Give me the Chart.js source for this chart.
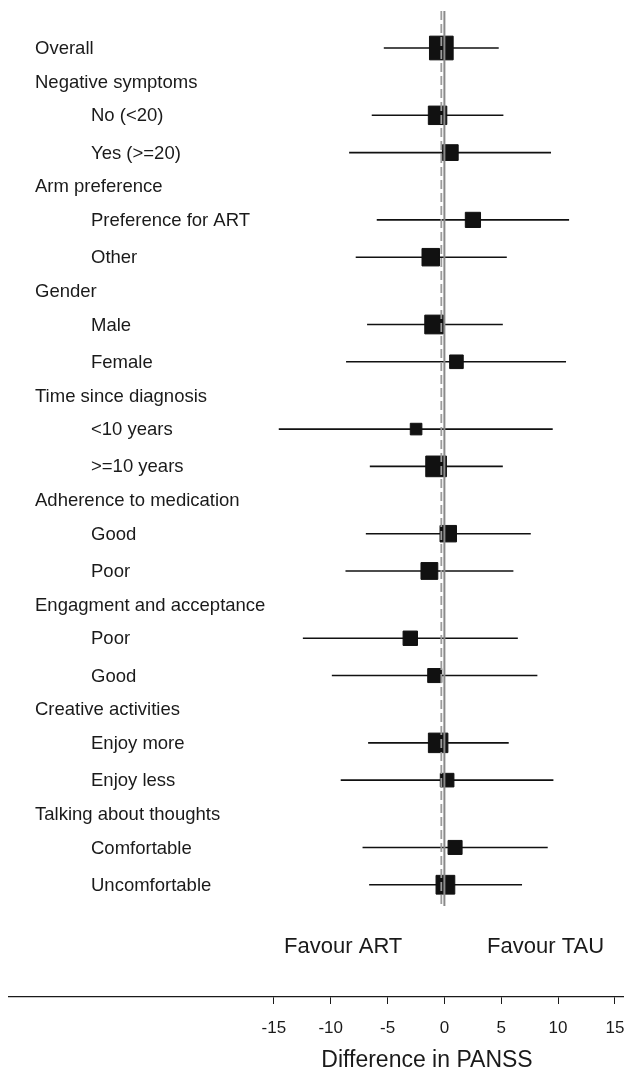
<!DOCTYPE html>
<html>
<head>
<meta charset="utf-8">
<script src="https://cdn.jsdelivr.net/npm/chart.js@4.4.1/dist/chart.umd.min.js"></script>
<style>
  html, body { margin: 0; padding: 0; background: #fff; }
  #wrap { width: 624px; height: 1074px; position: relative; }
</style>
</head>
<body>
<div id="wrap"><canvas id="forest"></canvas></div>
<script>
// Row labels, top to bottom (level 1 = indented subgroup)
const rowLabels = [
    'Overall',
    'Negative symptoms', 'No (<20)', 'Yes (>=20)',
    'Arm preference', 'Preference for ART', 'Other',
    'Gender', 'Male', 'Female',
    'Time since diagnosis', '<10 years', '>=10 years',
    'Adherence to medication', 'Good', 'Poor',
    'Engagment and acceptance', 'Poor', 'Good',
    'Creative activities', 'Enjoy more', 'Enjoy less',
    'Talking about thoughts', 'Comfortable', 'Uncomfortable'
];
const rowLevel = [0, 0, 1, 1, 0, 1, 1, 0, 1, 1, 0, 1, 1, 0, 1, 1, 0, 1, 1, 0, 1, 1, 0, 1, 1];

// Difference in PANSS (null = heading row, no estimate)
const estimates = [-0.27, null, -0.6, 0.52, null, 2.51, -1.2, null, -0.9, 1.06, null, -2.49, -0.73,
    null, 0.34, -1.32, null, -3.0, -0.85, null, -0.55, 0.24, null, 0.94, 0.09];
const lowerCI = [-5.33, null, -6.39, -8.38, null, -5.95, -7.8, null, -6.8, -8.65, null, -14.57, -6.56,
    null, -6.91, -8.7, null, -12.45, -9.9, null, -6.71, -9.12, null, -7.2, -6.62];
const upperCI = [4.78, null, 5.19, 9.38, null, 10.97, 5.49, null, 5.14, 10.7, null, 9.53, 5.14,
    null, 7.6, 6.07, null, 6.46, 8.18, null, 5.66, 9.59, null, 9.09, 6.83];
// Relative weight of each estimate (overall = 100), drawn as box area
const weights = [100, null, 62, 46, null, 43, 56, null, 64, 35, null, 26, 77,
    null, 50, 52, null, 39, 37, null, 69, 35, null, 37, 64];

const xTicks = [-15, -10, -5, 0, 5, 10, 15];
const favourLabels = ['Favour ART', 'Favour TAU'];
const xTitle = 'Difference in PANSS';

const FONT = '"Liberation Sans", Arial, Helvetica, sans-serif';
const INK = '#1a1a1a';

// vertical position of each row (subgroup pairs sit a little further apart)
const rowPos = [];
rowLabels.forEach((_, i) => {
    if (i === 0) { rowPos.push(0); return; }
    const step = (rowLevel[i] === 1 && rowLevel[i - 1] === 1) ? 1.108 : 1;
    rowPos.push(rowPos[i - 1] + step);
});
const lastPos = rowPos[rowPos.length - 1];

// box side from weight
const boxSide = w => 24.7 * Math.sqrt(w / 100);

const boxPoints = [];
const boxRadius = [];
const ciSets = [];
estimates.forEach((est, i) => {
    if (est === null) return;
    boxPoints.push({ x: est, y: rowPos[i] });
    boxRadius.push((boxSide(weights[i]) - 1) / Math.SQRT2);
    ciSets.push({
        data: [{ x: lowerCI[i], y: rowPos[i] }, { x: upperCI[i], y: rowPos[i] }],
        showLine: true,
        borderColor: '#111',
        borderWidth: 1.6,
        pointRadius: 0
    });
});

const textPlugin = {
    id: 'forestText',
    afterDraw(chart) {
        const { ctx, scales: { x, y } } = chart;
        ctx.save();
        ctx.fillStyle = INK;
        ctx.textBaseline = 'middle';
        ctx.textAlign = 'left';
        ctx.font = '18.5px ' + FONT;
        rowLabels.forEach((lab, i) => {
            ctx.fillText(lab, rowLevel[i] ? 91 : 35, y.getPixelForValue(rowPos[i]) + 1);
        });
        ctx.textAlign = 'center';
        ctx.font = '22px ' + FONT;
        ctx.fillText(favourLabels[0], x.getPixelForValue(-8.9), 947);
        ctx.fillText(favourLabels[1], x.getPixelForValue(8.9), 947);
        ctx.font = '23px ' + FONT;
        ctx.fillText(xTitle, 427, 1061);
        ctx.restore();
    }
};

const ctx = document.getElementById('forest').getContext('2d');
new Chart(ctx, {
    type: 'scatter',
    data: {
        datasets: [
            {
                // line of no effect
                data: [{ x: 0, y: -1.1 }, { x: 0, y: lastPos + 0.63 }],
                showLine: true,
                borderColor: '#8a8a8a',
                borderWidth: 2,
                pointRadius: 0
            },
            {
                // overall estimate
                data: [{ x: estimates[0], y: -1.1 }, { x: estimates[0], y: lastPos + 0.6 }],
                showLine: true,
                borderColor: '#9c9c9c',
                borderWidth: 1.8,
                borderDash: [9, 4],
                pointRadius: 0
            },
            {
                data: boxPoints,
                pointStyle: 'rect',
                pointRadius: boxRadius,
                backgroundColor: '#111',
                borderColor: '#111',
                borderWidth: 1
            },
            ...ciSets
        ]
    },
    options: {
        responsive: true,
        maintainAspectRatio: false,
        animation: false,
        events: [],
        layout: { autoPadding: false, padding: { left: 9, right: 0, top: 0, bottom: 0 } },
        plugins: {
            legend: { display: false },
            tooltip: { enabled: false }
        },
        scales: {
            x: {
                type: 'linear',
                min: -38.3,
                max: 15.8,
                afterBuildTicks: s => { s.ticks = xTicks.map(v => ({ value: v })); },
                afterFit: s => { s.height = 77; s.paddingRight = 0; s.paddingLeft = 0; },
                grid: { drawOnChartArea: false, drawTicks: true, tickLength: 7, color: INK, lineWidth: 1 },
                border: { display: true, color: INK, width: 1.3 },
                ticks: {
                    color: INK,
                    font: { family: FONT, size: 17 },
                    padding: 14,
                    maxRotation: 0,
                    autoSkip: false
                }
            },
            y: {
                type: 'linear',
                display: false,
                reverse: true,
                min: -1.4265,
                max: 28.2
            }
        }
    },
    plugins: [textPlugin]
});
</script>
</body>
</html>
